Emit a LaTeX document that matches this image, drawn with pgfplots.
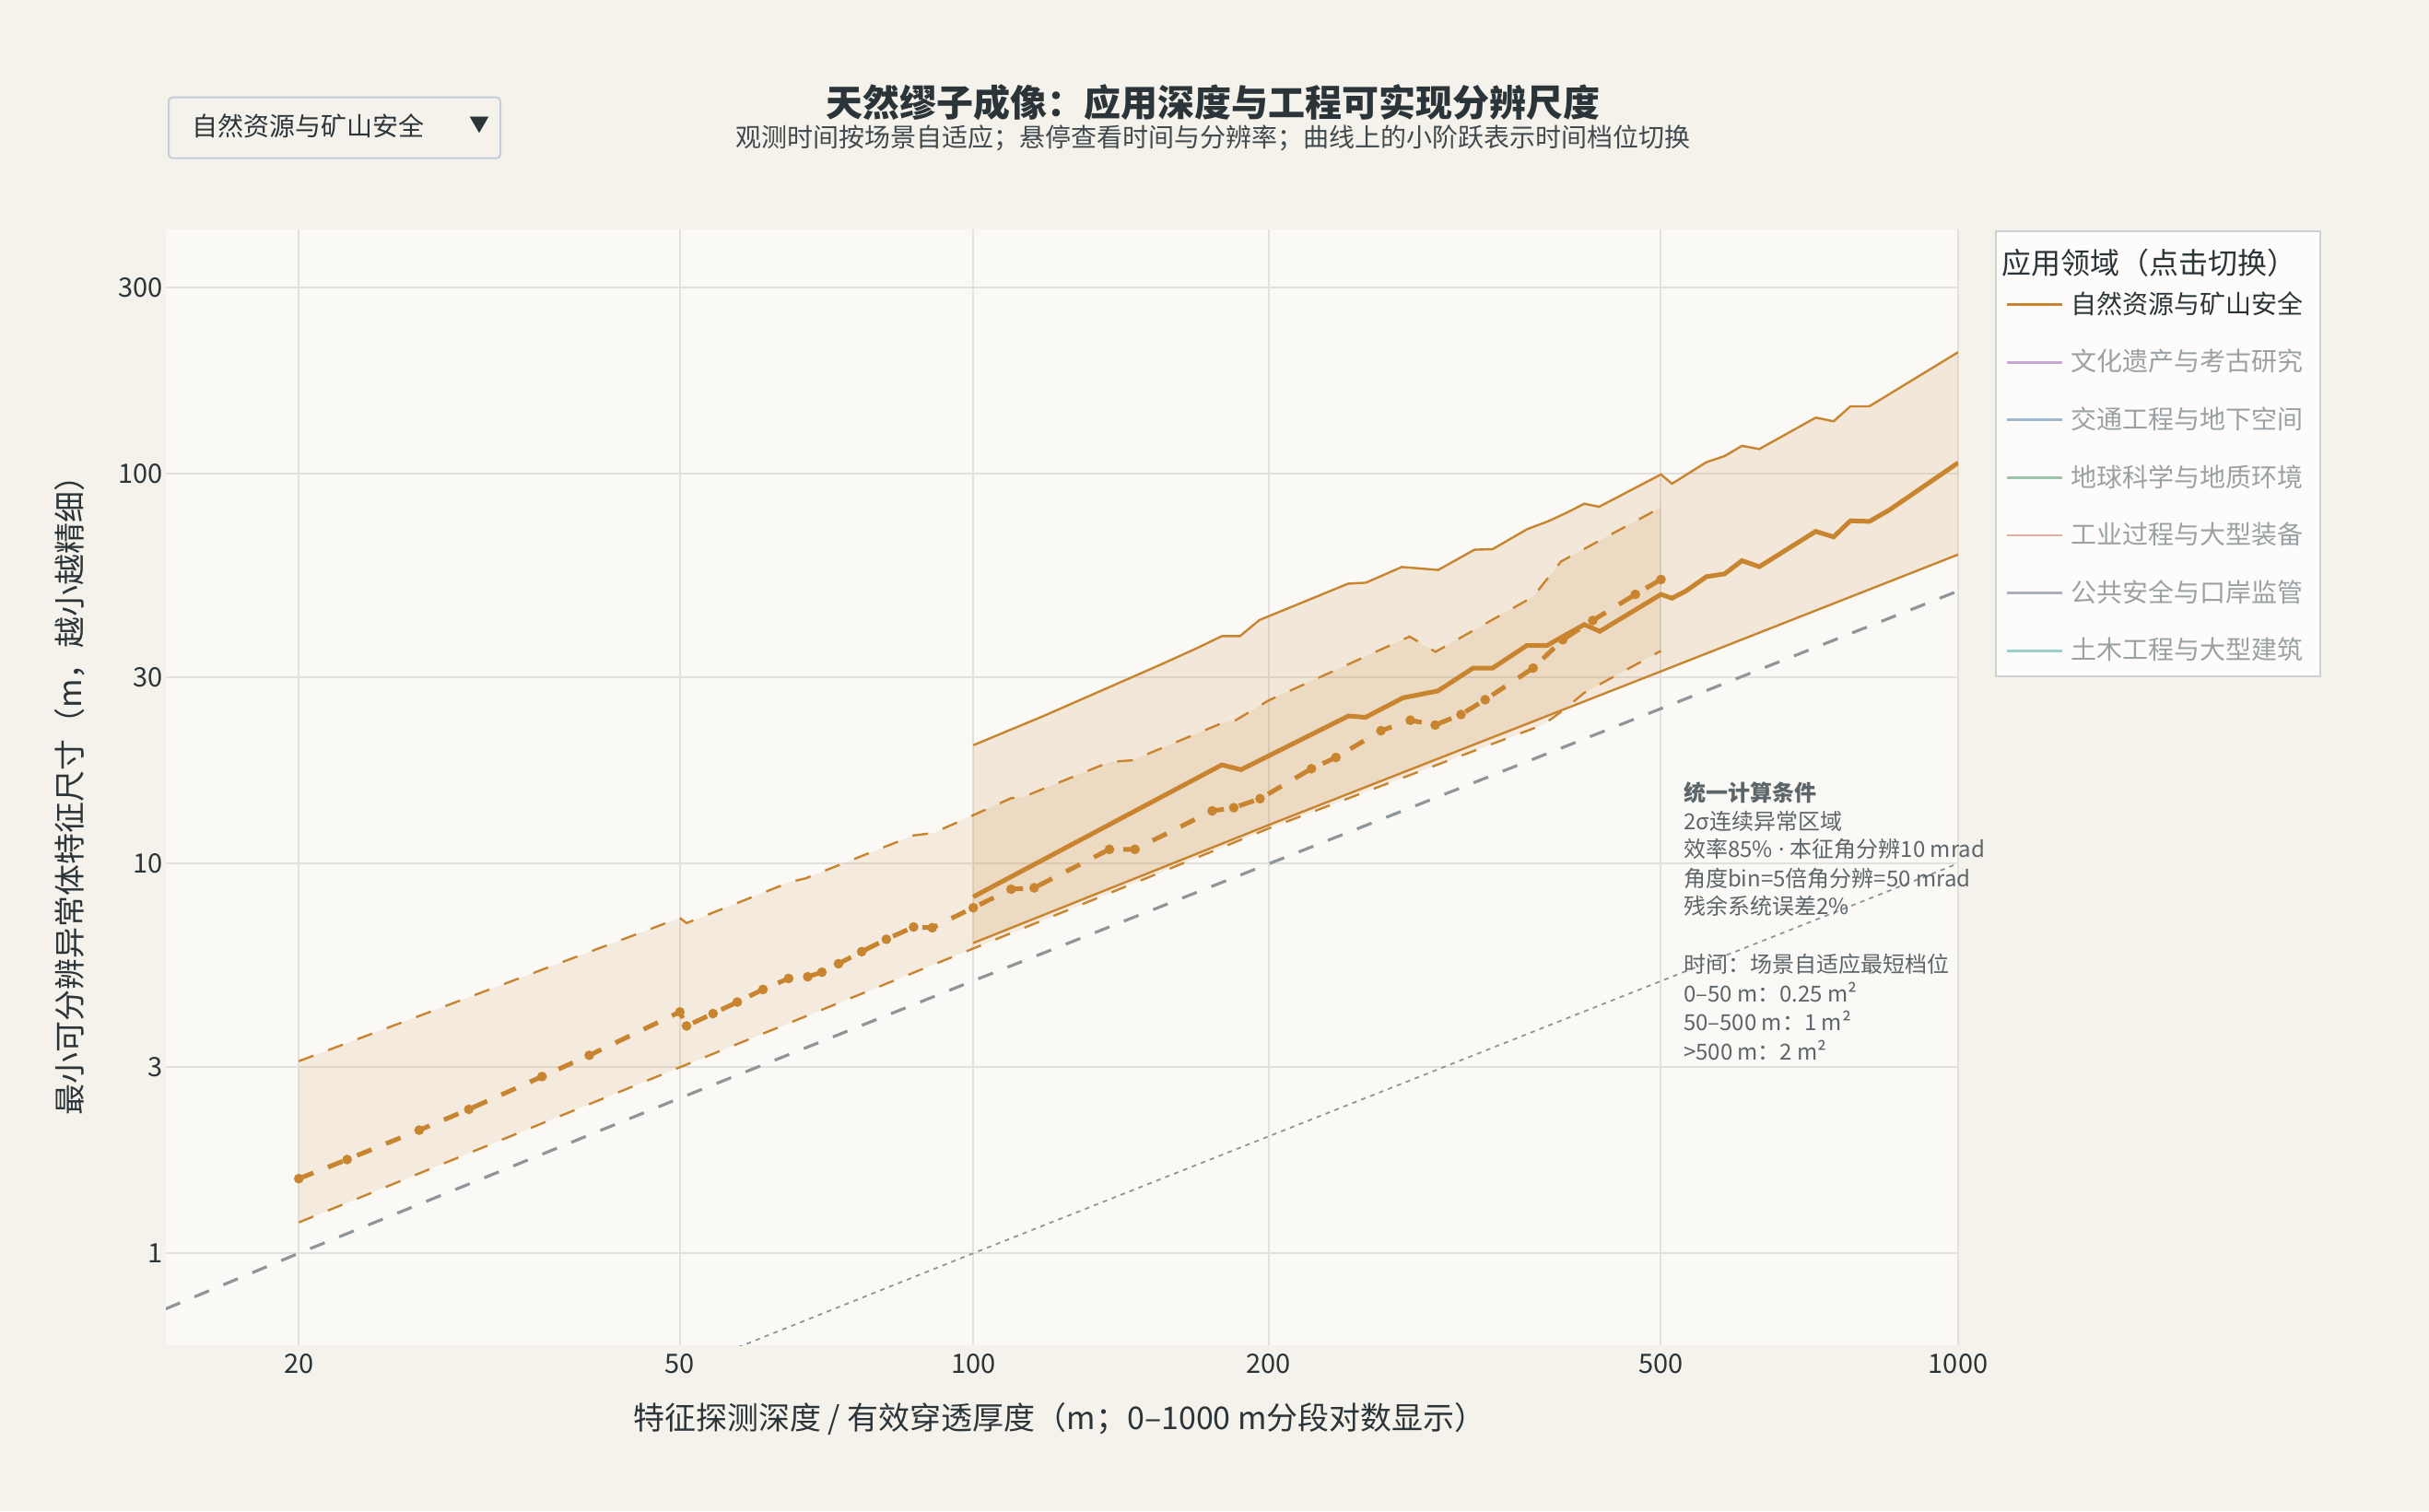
\documentclass[border=0pt]{standalone}
\usepackage{fontspec}
\setmainfont{Noto Sans CJK SC}
\newfontfamily\latinfont{Noto Sans}
\usepackage{pgfplots}
\usepackage{pgfplotstable}
\pgfplotsset{compat=1.18}

\definecolor{bgout}{HTML}{F5F2EB}
\definecolor{bgplot}{HTML}{FAF9F6}
\definecolor{gridc}{HTML}{E2E1DD}
\definecolor{orng}{HTML}{C9842F}
\definecolor{orngl}{HTML}{E2B37E}
\definecolor{refg}{HTML}{8E969A}
\definecolor{txt}{HTML}{2A3439}
\definecolor{subtxt}{HTML}{3F494E}
\definecolor{legtxt}{HTML}{9AA1A5}
\definecolor{anntxt}{HTML}{5C656A}
\definecolor{legbox}{HTML}{CCD1D3}
\definecolor{legfill}{HTML}{FDFCFA}
\definecolor{ddbox}{HTML}{C5CCDA}
\definecolor{cpurple}{HTML}{C9A8D6}
\definecolor{cblue}{HTML}{9DBAD5}
\definecolor{cgreen}{HTML}{9CC4AD}
\definecolor{cpink}{HTML}{E8AAA7}
\definecolor{cgray}{HTML}{A9AEB8}
\definecolor{cteal}{HTML}{9BCFCE}

% dashed scenario (20-500 m)
\pgfplotstableread{
x y
20 3.11
50 7.25
50.8 7.03
65.1 8.98
67.3 9.15
86.9 11.8
91.05 11.97
100 13.3
109.3 14.7
112.4 14.8
137.7 18.2
145.4 18.4
179.2 22.9
185.1 23.3
200 26.2
278 38.2
295.4 34.9
371 48.3
396 59.5
500 81.9
}\tUd
\pgfplotstableread{
x y
20 1.554
22.5 1.74
26.8 2.07
30.2 2.34
36.0 2.84
40.3 3.22
50 4.16
50.8 3.83
54.1 4.12
57.3 4.41
60.9 4.75
64.7 5.07
67.7 5.12
70.0 5.26
72.8 5.53
76.9 5.94
81.5 6.39
86.9 6.87
90.8 6.84
100 7.70
109.3 8.59
115.4 8.66
137.7 10.87
146.2 10.87
175.2 13.64
184.3 13.9
196 14.66
221 17.5
234 18.7
260 21.9
278.5 23.3
295.2 22.65
313.5 24.1
331.7 26.3
371 31.7
397.7 37.5
426.4 42.0
471 49.0
500 53.5
}\tMd
\pgfplotstableread{
x y
20 1.20
50 3.0
100 6.05
200 12.3
380 22.7
398 24.7
418 27.4
500 35.1
}\tLd
% band outline of the dashed scenario: upper, then lower reversed
\pgfplotstableread{
x y
20 3.11
50 7.25
50.8 7.03
65.1 8.98
67.3 9.15
86.9 11.8
91.05 11.97
100 13.3
109.3 14.7
112.4 14.8
137.7 18.2
145.4 18.4
179.2 22.9
185.1 23.3
200 26.2
278 38.2
295.4 34.9
371 48.3
396 59.5
500 81.9
500 35.1
418 27.4
398 24.7
380 22.7
200 12.3
100 6.05
50 3.0
20 1.20
}\tFd
% solid scenario (100-1000 m)
\pgfplotstableread{
x y
100 20.1
118 23.9
155 32.3
169.2 35.7
179.2 38.3
187 38.3
195.7 42.1
240.8 52.2
251 52.5
273 57.6
297.2 56.6
323.6 63.8
337.5 64.0
366.2 72.1
384 75.4
400.5 79.2
418.2 83.7
432.8 82.2
500 99.5
513 94.2
556 107
580 110.9
604 117.8
629 115.6
717.5 139.2
748 136.2
778 148.8
813 148.8
1000 204.9
}\tUs
\pgfplotstableread{
x y
100 8.21
179.2 17.9
187.5 17.4
241 23.9
250.7 23.7
273.8 26.6
297 27.7
322.5 31.7
337.5 31.7
365.5 36.2
383 36.2
418 41.0
433.5 39.4
500 49.0
513 47.9
529.5 49.9
556 54.4
580 55.3
604 59.8
629 57.7
717.5 71.1
748 68.8
778 75.7
813 75.4
852 80.7
1000 106.6
}\tMs
\pgfplotstableread{
x y
100 6.25
200 12.55
500 31.1
1000 62.0
}\tLs
% band outline of the solid scenario: upper, then lower reversed
\pgfplotstableread{
x y
100 20.1
118 23.9
155 32.3
169.2 35.7
179.2 38.3
187 38.3
195.7 42.1
240.8 52.2
251 52.5
273 57.6
297.2 56.6
323.6 63.8
337.5 64.0
366.2 72.1
384 75.4
400.5 79.2
418.2 83.7
432.8 82.2
500 99.5
513 94.2
556 107
580 110.9
604 117.8
629 115.6
717.5 139.2
748 136.2
778 148.8
813 148.8
1000 204.9
1000 62.0
500 31.1
200 12.55
100 6.25
}\tFs

\begin{document}
\begin{tikzpicture}[x=1pt,y=1pt]
\fill[bgout] (0,0) rectangle (1318,820);
\path[use as bounding box] (0,0) rectangle (1318,820);

% legend frame (drawn under the pgfplots legend)
\draw[draw=legbox, fill=legfill, line width=1pt] (1082.9,453) rectangle (1259,694.5);

\begin{axis}[
  at={(90pt,90pt)}, anchor=south west,
  width=972.5pt, height=605.5pt, scale only axis,
  % x axis: log10(1+x) display
  x coord trafo/.code={\pgfmathparse{log10(#1+1)}},
  x coord inv trafo/.code={\pgfmathparse{10^(#1)-1}},
  ymode=log,
  xmin=14.41, xmax=1000, ymin=0.581, ymax=423,
  axis line style={draw=none},
  axis background/.style={fill=bgplot},
  xtick={20,50,100,200,500,1000},
  xticklabels={20,50,100,200,500,1000},
  ytick={1,3,10,30,100,300},
  yticklabels={1,3,10,30,100,300},
  major tick length=0pt, minor tick length=0pt,
  grid=major, major grid style={gridc, line width=1pt},
  /pgf/number format/assume math mode=true,
  tick label style={font=\fontsize{14.5}{17}\selectfont, text=txt},
  xticklabel style={yshift=-1pt},
  yticklabel style={inner sep=1.5pt},
  legend style={at={(1.02673,0.9412)}, anchor=north west, draw=none, fill=none,
    inner sep=0pt, outer sep=0pt, row sep=18.3pt, column sep=4pt,
    nodes={inner sep=0pt, text height=10pt, text depth=3pt,
      font=\fontsize{14}{16}\selectfont, anchor=base west}},
  legend cell align=left,
  legend image code/.code={\draw[#1] (0pt,4.8pt) -- (30pt,4.8pt);},
]
% reference lines
\addplot[refg, line width=1.6pt, dash pattern=on 8.5pt off 8.5pt, forget plot] coordinates {(14.4,0.72) (20,1) (50,2.5) (100,5) (1000,50)};
\addplot[refg, line width=0.9pt, dash pattern=on 2.5pt off 2.7pt, forget plot] coordinates {(55,0.55) (100,1) (1000,10)};

% bands
\addplot[fill=orng, fill opacity=0.12, draw=none, forget plot] table {\tFd};
\addplot[fill=orng, fill opacity=0.15, draw=none, forget plot] table {\tFs};

% dashed scenario lines
\addplot[orng, line width=1.2pt, dash pattern=on 8.5pt off 8.5pt, forget plot] table {\tUd};
\addplot[orng, line width=1.2pt, dash pattern=on 8.5pt off 8.5pt, forget plot] table {\tLd};
\addplot[orng, line width=2.5pt, dash pattern=on 8.5pt off 8.5pt, forget plot,
  mark=*, mark size=1.3pt, mark options={draw=none, fill=orngl, solid}] table {\tMd};

% solid scenario lines
\addplot[orng, line width=1.2pt, forget plot] table {\tUs};
\addplot[orng, line width=1.2pt, forget plot] table {\tLs};
\addplot[orng, line width=2.5pt, forget plot] table {\tMs};

% legend
\addlegendimage{orng, line width=1.4pt}
\addlegendentry{\textcolor{txt}{自然资源与矿山安全}}
\addlegendimage{cpurple, line width=1.4pt}
\addlegendentry{\textcolor{legtxt}{文化遗产与考古研究}}
\addlegendimage{cblue, line width=1.4pt}
\addlegendentry{\textcolor{legtxt}{交通工程与地下空间}}
\addlegendimage{cgreen, line width=1.4pt}
\addlegendentry{\textcolor{legtxt}{地球科学与地质环境}}
\addlegendimage{cpink, line width=1.4pt}
\addlegendentry{\textcolor{legtxt}{工业过程与大型装备}}
\addlegendimage{cgray, line width=1.4pt}
\addlegendentry{\textcolor{legtxt}{公共安全与口岸监管}}
\addlegendimage{cteal, line width=1.4pt}
\addlegendentry{\textcolor{legtxt}{土木工程与大型建筑}}
\end{axis}

% legend title
\node[anchor=west, inner sep=0pt, text=txt, font=\fontsize{16}{18}\selectfont] at (1086,677.5) {应用领域（点击切换）};

% titles
\node[text=txt, font=\bfseries\fontsize{20}{24}\selectfont] at (658,764.5) {天然缪子成像：应用深度与工程可实现分辨尺度};
\node[text=subtxt, font=\fontsize{14}{16}\selectfont] at (658,745) {观测时间按场景自适应；悬停查看时间与分辨率；曲线上的小阶跃表示时间档位切换};

% axis titles
\node[rotate=90, text=txt, font=\fontsize{17}{19}\selectfont] at (38,392.5) {最小可分辨异常体特征尺寸（m，越小越精细）};
\node[text=txt, font=\fontsize{17}{19}\selectfont] at (575,50) {特征探测深度 / 有效穿透厚度（m；0–1000 m分段对数显示）};

% dropdown
\draw[draw=ddbox, line width=1pt, rounded corners=2pt, fill=bgout] (91.5,734.15) rectangle (271.5,767.15);
\node[anchor=west, inner sep=0pt, text=txt, font=\fontsize{14}{16}\selectfont] at (104.25,751.5) {自然资源与矿山安全};
\node[text=txt, inner sep=0pt, font=\fontsize{11}{13}\selectfont] at (260,752) {▼};

% annotation
\begin{scope}[every node/.style={anchor=west, inner sep=0pt, text=anntxt, font=\fontsize{12}{14}\selectfont}]
\node[font=\bfseries\fontsize{12}{14}\selectfont] at (913.35,390) {统一计算条件};
\node at (913.35,374.15) {2σ连续异常区域};
\node at (913.35,359.15) {效率85\%{\latinfont\ ·\ }本征角分辨10 mrad};
\node at (913.35,343.5) {角度bin=5倍角分辨=50 mrad};
\node at (913.35,328.5) {残余系统误差2\%};
\node at (913.35,296.65) {时间：场景自适应最短档位};
\node at (913.35,281.5) {0–50 m：0.25 m²};
\node at (913.35,266) {50–500 m：1 m²};
\node at (913.35,250) {>500 m：2 m²};
\end{scope}
\end{tikzpicture}
\end{document}
